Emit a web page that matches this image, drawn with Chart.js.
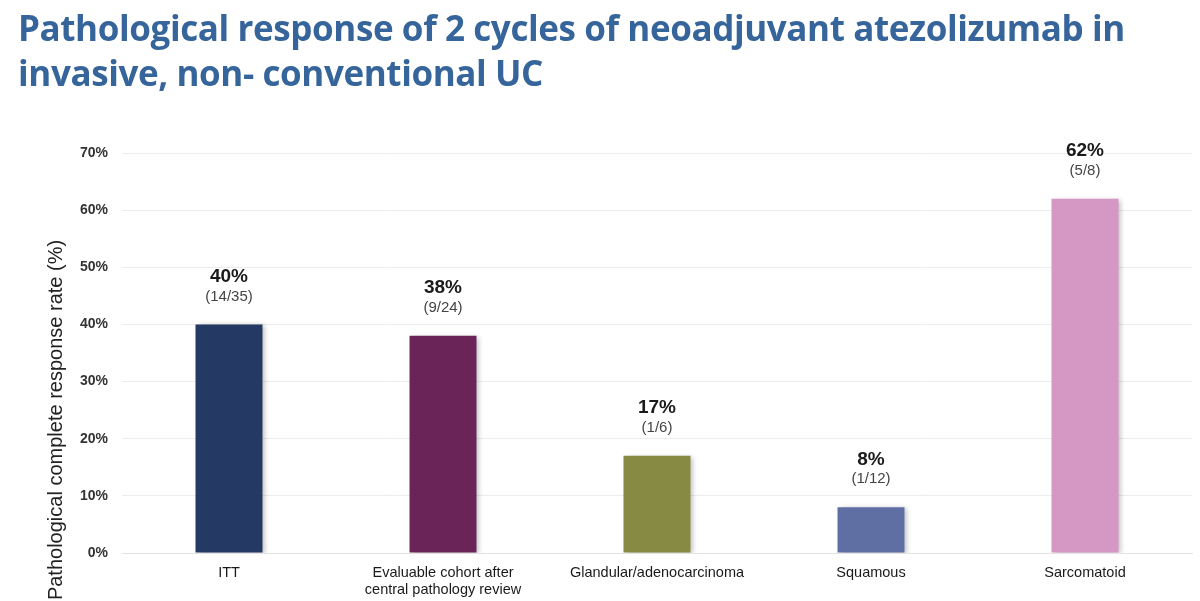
<!DOCTYPE html>
<html>
<head>
<meta charset="utf-8">
<script src="https://cdn.jsdelivr.net/npm/chart.js@4"></script>
<style>
  html, body { margin: 0; padding: 0; background: #fff; }
  #wrap { position: relative; width: 1200px; height: 601px; overflow: hidden; }
  #title {
    position: absolute; left: 18px; top: 5px;
    font-family: "Open Sans", sans-serif;
    font-weight: bold; font-size: 35px; line-height: 45px;
    letter-spacing: -0.4px;
    white-space: nowrap;
    color: #36659b;
  }
  canvas { position: absolute; left: 0; top: 0; }
</style>
</head>
<body>
<div id="wrap">
  <canvas id="responseChart" width="1200" height="601"></canvas>
  <div id="title">Pathological response of 2 cycles of neoadjuvant atezolizumab in<br>invasive, non- conventional UC</div>
</div>
<script>
const categories = [
    "ITT",
    ["Evaluable cohort after", "central pathology review"],
    "Glandular/adenocarcinoma",
    "Squamous",
    "Sarcomatoid"
];
const responseRates = [40, 38, 17, 8, 62];
const fractions = ["(14/35)", "(9/24)", "(1/6)", "(1/12)", "(5/8)"];
const barColors = ["#243a64", "#6b2458", "#878a42", "#5f6ea3", "#d597c4"];
const yTicks = [0, 10, 20, 30, 40, 50, 60, 70];

// percent + fraction above each bar
const barLabels = {
    id: 'barLabels',
    afterDatasetsDraw(chart) {
        const ctx = chart.ctx;
        const meta = chart.getDatasetMeta(0);
        ctx.save();
        ctx.textAlign = 'center';
        ctx.textBaseline = 'middle';
        meta.data.forEach((bar, i) => {
            ctx.fillStyle = '#1a1a1a';
            ctx.font = 'bold 19px "Liberation Sans", Arial, sans-serif';
            ctx.fillText(responseRates[i] + '%', bar.x, bar.y - 48);
            ctx.fillStyle = '#444';
            ctx.font = '15px "Liberation Sans", Arial, sans-serif';
            ctx.fillText(fractions[i], bar.x, bar.y - 28);
        });
        ctx.restore();
    }
};

// soft shadow on the bars
const barShadow = {
    id: 'barShadow',
    beforeDatasetsDraw(chart) {
        const ctx = chart.ctx;
        ctx.save();
        ctx.shadowColor = 'rgba(0,0,0,0.25)';
        ctx.shadowBlur = 5;
        ctx.shadowOffsetX = 3;
        ctx.shadowOffsetY = 1;
    },
    afterDatasetsDraw(chart) {
        chart.ctx.restore();
    }
};

// rotated y axis title, placed like the original (lower than centre)
const yTitle = {
    id: 'yTitle',
    afterDraw(chart) {
        const ctx = chart.ctx;
        ctx.save();
        ctx.translate(56, 420);
        ctx.rotate(-Math.PI / 2);
        ctx.textAlign = 'center';
        ctx.textBaseline = 'middle';
        ctx.fillStyle = '#222';
        ctx.font = '20px "Liberation Sans", Arial, sans-serif';
        ctx.fillText('Pathological complete response rate (%)', 0, 0);
        ctx.restore();
    }
};

const ctx = document.getElementById('responseChart').getContext('2d');
new Chart(ctx, {
    type: 'bar',
    data: {
        labels: categories,
        datasets: [{
            data: responseRates,
            backgroundColor: barColors,
            borderWidth: 0,
            barPercentage: 0.313,
            categoryPercentage: 1
        }]
    },
    options: {
        responsive: false,
        animation: false,
        layout: { padding: { top: 153, right: 8, left: 0, bottom: 0 } },
        plugins: {
            legend: { display: false },
            tooltip: { enabled: false }
        },
        scales: {
            x: {
                afterFit(scale) { scale.height = 48; },
                grid: { display: false, drawTicks: false },
                border: { color: '#e3e3e3' },
                ticks: {
                    padding: 11,
                    color: '#1a1a1a',
                    maxRotation: 0,
                    font: { family: '"Liberation Sans", Arial, sans-serif', size: 14.5 }
                }
            },
            y: {
                min: 0,
                max: 70,
                afterFit(scale) { scale.width = 122; },
                afterBuildTicks(scale) { scale.ticks = yTicks.map(v => ({ value: v })); },
                grid: { color: '#ececec', drawTicks: false },
                border: { display: false },
                ticks: {
                    padding: 14,
                    color: '#333',
                    font: { family: '"Liberation Sans", Arial, sans-serif', size: 14, weight: 'bold' },
                    callback: v => v + '%'
                }
            }
        }
    },
    plugins: [barShadow, barLabels, yTitle]
});
</script>
</body>
</html>
